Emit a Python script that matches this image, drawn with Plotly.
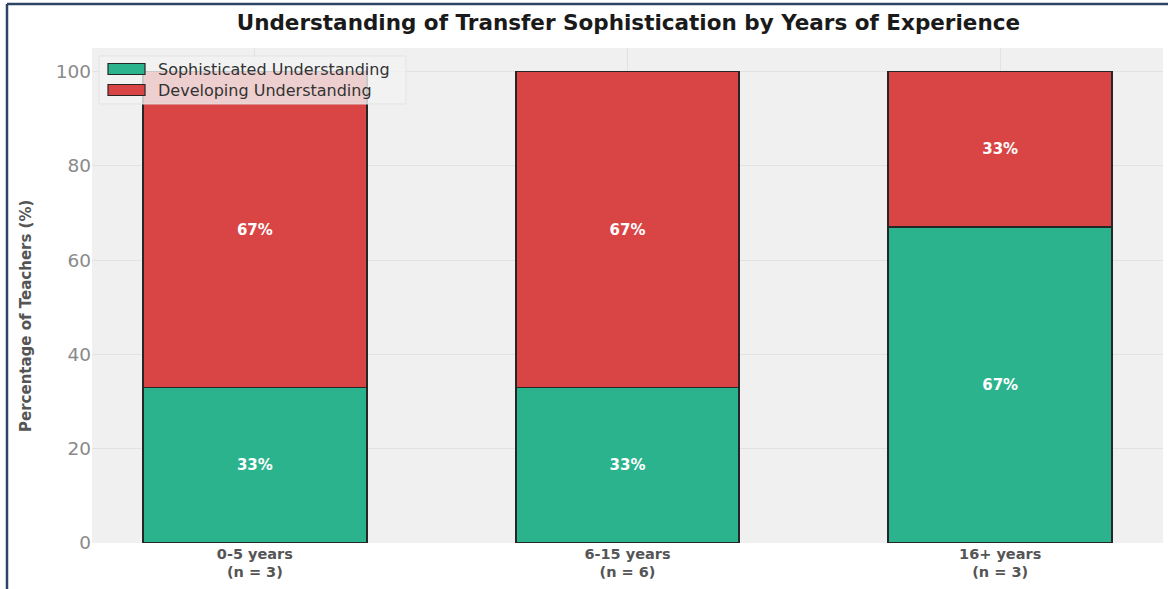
import plotly.graph_objects as go

# Teacher groups by years of experience
categories = ["0-5 years<br>(n = 3)", "6-15 years<br>(n = 6)", "16+ years<br>(n = 3)"]
sophisticated = [33, 33, 67]
developing = [67, 67, 33]
series_names = ["Sophisticated Understanding", "Developing Understanding"]
y_ticks = [0, 20, 40, 60, 80, 100]

GREEN = "#2bb38e"
RED = "#d94444"
EDGE = "#262626"
label_font = dict(family="DejaVu Sans", size=15, color="white", weight="bold")

W, H = 1168, 589
L, R, T, B = 92, 5, 48, 46
PW, PH = W - L - R, H - T - B


def px(x):
    return (x - L) / PW


def py(y):
    return (H - B - y) / PH


fig = go.Figure()
for name, vals, col in [(series_names[0], sophisticated, GREEN),
                        (series_names[1], developing, RED)]:
    fig.add_trace(go.Bar(
        name=name, x=categories, y=vals,
        marker=dict(color=col, line=dict(color=EDGE, width=1.8)),
        text=[f"{v}%" for v in vals],
        textposition="inside", insidetextanchor="middle",
        textfont=label_font, width=0.6, showlegend=False,
    ))

fig.update_layout(
    barmode="stack",
    width=W, height=H,
    margin=dict(l=L, r=R, t=T, b=B),
    paper_bgcolor="white",
    plot_bgcolor="#f0f0f0",
    font=dict(family="DejaVu Sans", color="#555555"),
    title=dict(
        text="<b>Understanding of Transfer Sophistication by Years of Experience</b>",
        x=0.538, xanchor="center", y=0.962, yanchor="middle",
        font=dict(family="DejaVu Sans", size=21.5, color="#1a1a1a"),
    ),
    uniformtext=dict(minsize=15, mode="show"),
)

fig.update_xaxes(
    range=[-0.437, 2.437],
    showgrid=True, gridcolor="#e2e2e2", gridwidth=1,
    tickfont=dict(family="DejaVu Sans", size=14.5, color="#555555", weight="bold"),
    ticks="", zeroline=False, showline=False,
)
fig.update_yaxes(
    range=[0, 105],
    tickvals=y_ticks,
    showgrid=True, gridcolor="#e2e2e2", gridwidth=1,
    tickfont=dict(family="DejaVu Sans", size=18.5, color="#8a8a8a"),
    ticks="", zeroline=False, showline=False,
)

# Y axis title
fig.add_annotation(
    text="<b>Percentage of Teachers (%)</b>", textangle=-90,
    xref="paper", yref="paper", x=px(26), y=py(316),
    xanchor="center", yanchor="middle", showarrow=False,
    font=dict(family="DejaVu Sans", size=15, color="#555555"),
)

# Legend box with wide rectangular swatches
fig.add_shape(type="rect", xref="paper", yref="paper",
              x0=px(99), x1=px(406), y0=py(56), y1=py(104),
              fillcolor="rgba(242,242,242,0.8)",
              line=dict(color="rgba(225,225,225,0.9)", width=1), layer="above")
for i, (name, col) in enumerate(zip(series_names, [GREEN, RED])):
    yc = 69 + 21 * i
    fig.add_shape(type="rect", xref="paper", yref="paper",
                  x0=px(108), x1=px(145), y0=py(yc - 5.5), y1=py(yc + 5.5),
                  fillcolor=col, line=dict(color=EDGE, width=1.2), layer="above")
    fig.add_annotation(text=name, xref="paper", yref="paper",
                       x=px(156), y=py(yc), xanchor="left", yanchor="middle",
                       showarrow=False,
                       font=dict(family="DejaVu Sans", size=16, color="#333333"))

# Navy frame along the top and left edges of the page
fig.add_shape(type="line", xref="paper", yref="paper",
              x0=px(7), x1=px(W + 5), y0=py(4), y1=py(4),
              line=dict(color="#2c4466", width=2.5))
fig.add_shape(type="line", xref="paper", yref="paper",
              x0=px(7), x1=px(7), y0=py(4), y1=py(H + 5),
              line=dict(color="#2c4466", width=2.5))

fig.write_html("out.html")
